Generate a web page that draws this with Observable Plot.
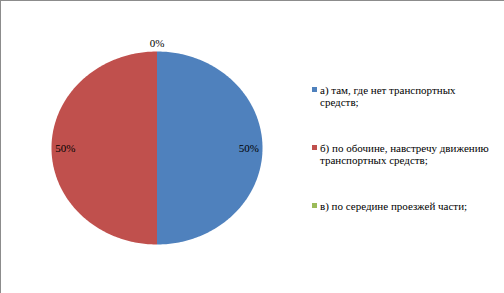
<!DOCTYPE html>
<html>
<head>
<meta charset="utf-8">
<script src="https://cdn.jsdelivr.net/npm/d3@7"></script>
<script src="https://cdn.jsdelivr.net/npm/@observablehq/plot@0.6"></script>
<style>
  html, body { margin: 0; padding: 0; background: #fff; }
  #wrap { position: relative; width: 504px; height: 293px; box-sizing: border-box;
          border-left: 1px solid #8c8c8c; border-top: 1px solid #8c8c8c; }
  #chart { position: absolute; left: -1px; top: -1px; }
  #legend { position: absolute; left: 310px; top: 0; font-size: 11px; color: #000; line-height: 12px; }
  .item { position: absolute; left: 0; width: 190px; white-space: nowrap; }
  .sw { position: absolute; left: 1px; top: 3px; width: 5px; height: 5px; }
  .txt { position: absolute; left: 9px; top: 0; }
</style>
</head>
<body>
<div id="wrap">
  <div id="chart"></div>
  <div id="legend" style="font-family:'Liberation Serif'"></div>
</div>
<script>
const categories = [
  "а) там, где нет транспортных средств;",
  "б) по обочине, навстречу движению транспортных средств;",
  "в) по середине проезжей части;"
];
const legendLines = [
  ["а) там, где нет транспортных", "средств;"],
  ["б) по обочине, навстречу движению", "транспортных средств;"],
  ["в) по середине проезжей части;"]
];
const values = [50, 50, 0];
const labels = ["50%", "50%", "0%"];
const colors = ["#4F81BD", "#C0504D", "#9BBB59"];

const data = categories.map((c, i) => ({key: c, value: values[i], label: labels[i]}));
const arcs = d3.pie().value(d => d.value).sort(null)(data);

// polygon points for each slice (angle 0 at top, clockwise)
const pts = [];
for (const a of arcs) {
  if (a.endAngle - a.startAngle <= 0) continue;
  pts.push({key: a.data.key, x: 0, y: 0});
  const n = 180;
  for (let k = 0; k <= n; k++) {
    const t = a.startAngle + (a.endAngle - a.startAngle) * k / n;
    pts.push({key: a.data.key, x: Math.sin(t), y: Math.cos(t)});
  }
  pts.push({key: a.data.key, x: 0, y: 0});
}
const lbl = arcs.map(a => {
  const m = (a.startAngle + a.endAngle) / 2;
  const r = a.data.value === 0 ? 1.085 : 0.87;
  return {x: r * Math.sin(m), y: r * Math.cos(m), label: a.data.label};
});

const chart = Plot.plot({
  width: 504, height: 293,
  marginLeft: 51, marginRight: 504 - 262, marginTop: 51, marginBottom: 293 - 244,
  x: {domain: [-1, 1], axis: null},
  y: {domain: [-1, 1], axis: null},
  color: {domain: categories, range: colors},
  style: {fontSize: "11px", background: "transparent"},
  marks: [
    Plot.line(pts, {x: "x", y: "y", z: "key", fill: "key", stroke: "none", curve: "linear"}),
    Plot.text(lbl, {x: "x", y: "y", text: "label", fill: "#000", fontSize: 11, fontFamily: "Liberation Serif"})
  ]
});
document.getElementById("chart").appendChild(chart);

const tops = [83, 141, 199];
const leg = document.getElementById("legend");
legendLines.forEach((lines, i) => {
  const it = document.createElement("div");
  it.className = "item";
  it.style.top = tops[i] + "px";
  it.style.fontFamily = "'Liberation Serif'";
  it.innerHTML = `<div class="sw" style="background:${colors[i]}"></div><div class="txt">${lines.join("<br>")}</div>`;
  leg.appendChild(it);
});
</script>
</body>
</html>
